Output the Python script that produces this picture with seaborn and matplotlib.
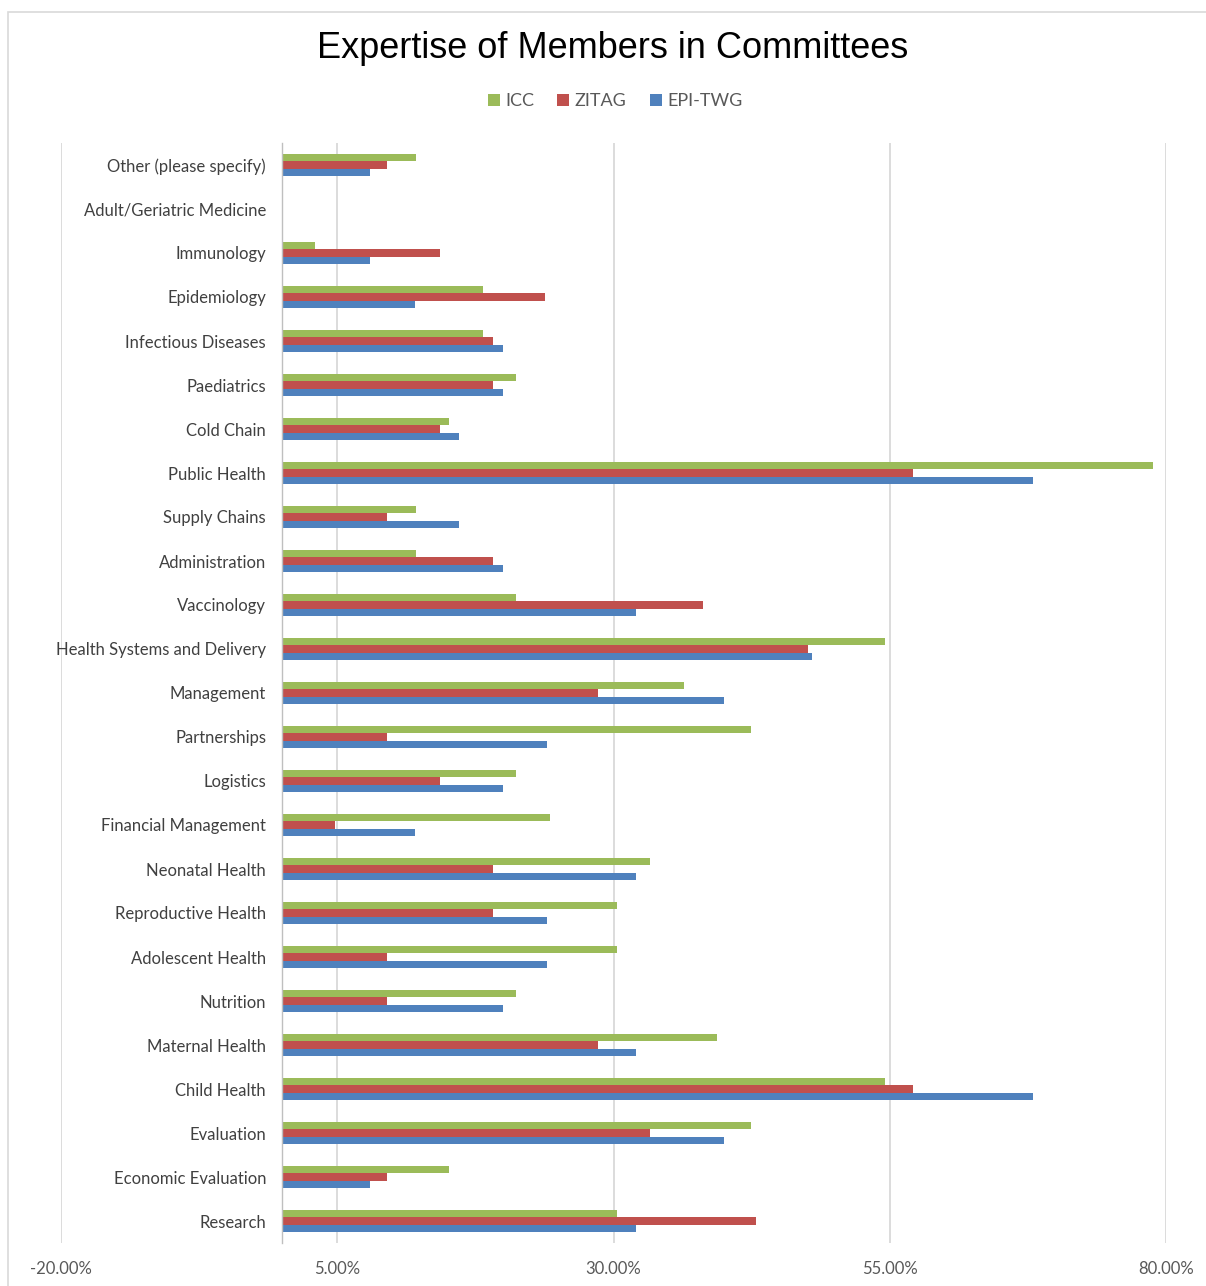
import numpy as np
import pandas as pd
import matplotlib
matplotlib.use("Agg")
import matplotlib.pyplot as plt
from matplotlib.patches import Rectangle
from matplotlib.ticker import FixedLocator, PercentFormatter
import seaborn as sns

# categories from top to bottom, as shown in the chart
categories = ["Other (please specify)", "Adult/Geriatric Medicine", "Immunology", "Epidemiology",
              "Infectious Diseases", "Paediatrics", "Cold Chain", "Public Health", "Supply Chains",
              "Administration", "Vaccinology", "Health Systems and Delivery", "Management",
              "Partnerships", "Logistics", "Financial Management", "Neonatal Health",
              "Reproductive Health", "Adolescent Health", "Nutrition", "Maternal Health",
              "Child Health", "Evaluation", "Economic Evaluation", "Research"]

icc = [0.1212, 0.0, 0.0303, 0.1818, 0.1818, 0.2121, 0.1515, 0.7879, 0.1212, 0.1212, 0.2121, 0.5455,
       0.3636, 0.4242, 0.2121, 0.2424, 0.3333, 0.3030, 0.3030, 0.2121, 0.3939, 0.5455, 0.4242,
       0.1515, 0.3030]
zitag = [0.0952, 0.0, 0.1429, 0.2381, 0.1905, 0.1905, 0.1429, 0.5714, 0.0952, 0.1905, 0.3810, 0.4762,
         0.2857, 0.0952, 0.1429, 0.0476, 0.1905, 0.1905, 0.0952, 0.0952, 0.2857, 0.5714, 0.3333,
         0.0952, 0.4286]
epi_twg = [0.08, 0.0, 0.08, 0.12, 0.20, 0.20, 0.16, 0.68, 0.16, 0.20, 0.32, 0.48, 0.40, 0.24, 0.20,
           0.12, 0.32, 0.24, 0.24, 0.20, 0.32, 0.68, 0.40, 0.08, 0.32]

committees = ["ICC", "ZITAG", "EPI-TWG"]
colors = ["#9BBB59", "#C0504D", "#4F81BD"]
xticks = [-0.20, 0.05, 0.30, 0.55, 0.80]

df = pd.DataFrame({"category": categories, "ICC": icc, "ZITAG": zitag, "EPI-TWG": epi_twg})
long_df = df.melt(id_vars="category", var_name="committee", value_name="share")

sns.set_style("white")
plt.rcParams["font.family"] = ["Lato", "DejaVu Sans"]
plt.rcParams["axes.unicode_minus"] = False

W, H = 1206, 1286
fig = plt.figure(figsize=(W / 100, H / 100), dpi=100)
ax = fig.add_axes([61 / W, 1 - 1243 / H, 1105 / W, 1100 / H])

sns.barplot(data=long_df, x="share", y="category", hue="committee", order=categories,
            hue_order=committees, palette=colors, orient="h", width=0.52, gap=0,
            saturation=1, errorbar=None, linewidth=0, ax=ax)

ax.set_xlim(-0.2, 0.8)
ax.set_ylim(len(categories) - 0.5, -0.5)
ax.set_xlabel("")
ax.set_ylabel("")

# x axis: percentage ticks with vertical gridlines
ax.xaxis.set_major_locator(FixedLocator(xticks))
ax.xaxis.set_major_formatter(PercentFormatter(1, decimals=2))
ax.tick_params(axis="x", length=0, pad=13, labelsize=12, labelcolor="#595959")
ax.grid(axis="x", color="#D9D9D9", linewidth=1.3)
ax.set_axisbelow(True)

# category axis sits at 0
for side in ["top", "right", "bottom"]:
    ax.spines[side].set_visible(False)
ax.spines["left"].set_position(("data", 0))
ax.spines["left"].set_color("#BFBFBF")
ax.spines["left"].set_linewidth(1)
ax.tick_params(axis="y", which="major", length=0, pad=11.5, labelsize=12, labelcolor="#404040")
ax.yaxis.set_minor_locator(FixedLocator(np.arange(-0.5, len(categories), 1)))
ax.tick_params(axis="y", which="minor", length=6, width=1, color="#BFBFBF", direction="out")

# legend on top
handles, labels = ax.get_legend_handles_labels()
ax.legend(handles, labels, loc="center", bbox_to_anchor=(0.51, 1 - 101 / H),
          bbox_transform=fig.transFigure, ncol=3, frameon=False, fontsize=13,
          handlelength=0.65, handleheight=0.65, handletextpad=0.3, columnspacing=1.3,
          labelcolor="#595959")

fig.text(0.508, 1 - 49 / H, "Expertise of Members in Committees", ha="center", va="center",
         fontsize=26, family=["Liberation Sans", "DejaVu Sans"], color="black")

# chart border
fig.patches.append(Rectangle((8 / W, -0.1), 2, 1 - 12 / H + 0.1, transform=fig.transFigure,
                             fill=False, edgecolor="#D9D9D9", linewidth=1.2))

fig.savefig("out.png", dpi=100)
